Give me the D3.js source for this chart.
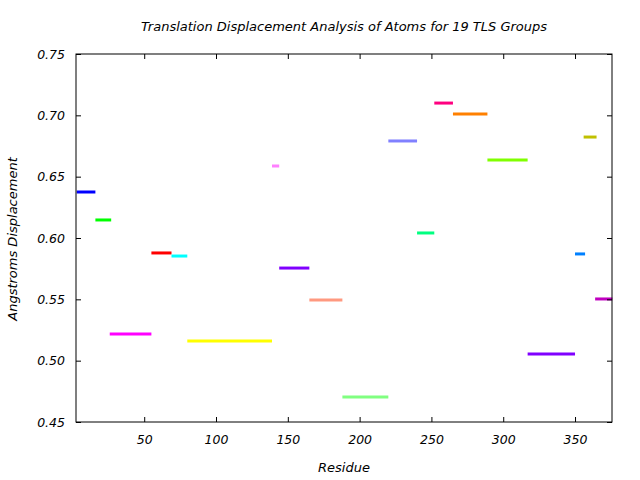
<!DOCTYPE html>
<html><head><meta charset="utf-8">
<script src="https://cdn.jsdelivr.net/npm/d3@7"></script>
<style>body{margin:0;background:#fff}svg{display:block}text{font-family:"DejaVu Sans",sans-serif;font-style:italic;font-size:12px;fill:#000}</style>
</head><body>
<script>
const groupStart = [3,16,26,55,69,80,139,144,165,188,220,240,252,265,289,317,350,356,364];
const groupEnd   = [16,27,55,69,80,139,144,165,188,220,240,252,265,289,317,350,357,365,376];
const displacement = [0.6375,0.6147,0.5217,0.5878,0.5853,0.5160,0.6587,0.5755,0.5495,0.4704,0.6791,0.6041,0.7100,0.7011,0.6636,0.5054,0.5870,0.6823,0.5503];
const groupColors = ["#0000ff","#00ff00","#ff00ff","#ff0000","#00ffff","#ffff00","#ff80ff","#8000ff","#ff9980","#80ff80","#8080ff","#00ff80","#ff0080","#ff8000","#80ff00","#8000ff","#0080ff","#c0c000","#c000c0"];
const xTicks = [50,100,150,200,250,300,350];
const yTicks = [0.45,0.50,0.55,0.60,0.65,0.70,0.75];

const W=640,H=480, L=76,R=612,T=54,B=422;
const svg=d3.select("body").append("svg").attr("width",W).attr("height",H);
const x=d3.scaleLinear().domain([2.5,375.75]).range([L,R]);
const y=d3.scaleLinear().domain([0.45,0.75]).range([B,T]);

// segments
svg.append("g").selectAll("line").data(displacement).join("line")
  .attr("x1",(d,i)=>x(groupStart[i])).attr("x2",(d,i)=>x(groupEnd[i]))
  .attr("y1",d=>y(d)).attr("y2",d=>y(d))
  .attr("stroke",(d,i)=>groupColors[i]).attr("stroke-width",3);

// axes (inward ticks, mirrored)
const tk=5;
const ax=svg.append("g");
ax.append("g").attr("transform",`translate(0,${B})`).call(d3.axisBottom(x).tickValues(xTicks).tickSize(-tk).tickPadding(13).tickFormat(d3.format("d")));
ax.append("g").attr("transform",`translate(0,${T})`).call(d3.axisTop(x).tickValues(xTicks).tickSize(-tk).tickFormat(""));
ax.append("g").attr("transform",`translate(${L},0)`).call(d3.axisLeft(y).tickValues(yTicks).tickSize(-tk).tickPadding(11).tickFormat(d3.format(".2f")));
ax.append("g").attr("transform",`translate(${R},0)`).call(d3.axisRight(y).tickValues(yTicks).tickSize(-tk).tickFormat(""));
ax.selectAll(".domain").remove();
ax.selectAll(".tick line").attr("stroke","#000");
ax.selectAll(".tick text").style("font-size","12.5px").style("font-family","DejaVu Sans").style("font-style","italic").attr("fill","#000");
svg.append("rect").attr("x",L).attr("y",T).attr("width",R-L).attr("height",B-T).attr("fill","none").attr("stroke","#000").attr("stroke-width",1);

svg.append("text").attr("x",344).attr("y",31).attr("text-anchor","middle").style("font-size","13px").text("Translation Displacement Analysis of Atoms for 19 TLS Groups");
svg.append("text").attr("x",344).attr("y",472).attr("text-anchor","middle").style("font-size","13px").text("Residue");
svg.append("text").attr("transform","translate(17,239) rotate(-90)").attr("text-anchor","middle").style("font-size","13px").text("Angstroms Displacement");
</script>
</body></html>
